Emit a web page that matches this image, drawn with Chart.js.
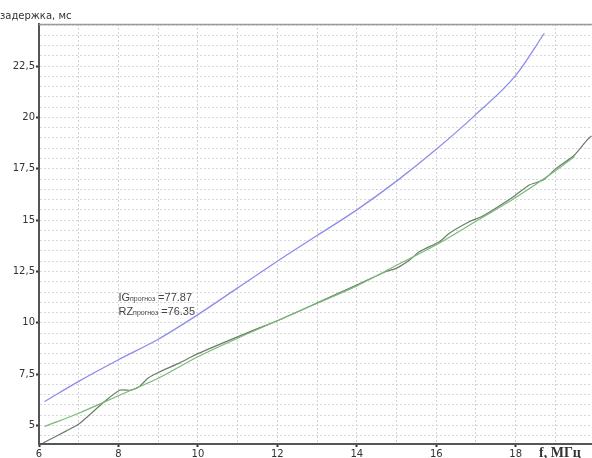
<!DOCTYPE html>
<html lang="ru">
<head>
<meta charset="utf-8">
<title>Задержка</title>
<script src="https://cdn.jsdelivr.net/npm/chart.js"></script>
<style>
  body { margin: 0; background: #fff; }
  #wrap { width: 592px; height: 458px; }
</style>
</head>
<body>
<div id="wrap"><canvas id="myChart" width="592" height="458"></canvas></div>
<script>
// IG forecast curve
var freqIG  = [6.14, 7, 8, 9, 10, 11, 12, 13, 14, 15, 16, 17, 18, 18.72];
var delayIG = [6.17, 7.15, 8.2, 9.2, 10.4, 11.7, 13.0, 14.25, 15.5, 16.9, 18.45, 20.15, 22.05, 24.1];

// RZ measured (dark) line
var freqRZ  = [6.1, 6.69, 7.02, 7.65, 8.03, 8.32, 8.53, 8.74, 9.0, 9.54, 10, 11.3, 12.06, 13.06, 13.98,
               14.74, 14.99, 15.33, 15.58, 16.08, 16.33, 16.84, 17.17, 17.97, 18.34, 18.69, 19.02, 19.48, 19.81, 19.91];
var delayRZ = [4.15, 4.74, 5.1, 6.17, 6.72, 6.72, 6.9, 7.3, 7.58, 8.05, 8.5, 9.56, 10.15, 11.02, 11.83,
               12.5, 12.65, 13.06, 13.47, 13.95, 14.36, 14.93, 15.2, 16.18, 16.71, 16.95, 17.52, 18.17, 18.93, 19.1];

// smooth fit (light green)
var freqFit  = [6.14, 7, 8, 9, 10, 11, 12, 13, 14, 15, 16, 17, 18, 19, 19.48];
var delayFit = [4.95, 5.6, 6.45, 7.3, 8.35, 9.25, 10.1, 10.95, 11.8, 12.8, 13.8, 14.95, 16.1, 17.4, 18.1];

var xTickLabels = [6, 8, 10, 12, 14, 16, 18];
var yTickLabels = [5, 7.5, 10, 12.5, 15, 17.5, 20, 22.5];

var noteIG = 'IG', noteIGval = '=77.87';
var noteRZ = 'RZ', noteRZval = '=76.35';
var noteSub = 'прогноз';

function pts(xs, ys) {
    return xs.map(function (x, i) { return {x: x, y: ys[i]}; });
}

var xGrid = [];
for (var i = 6; i <= 19; i++) xGrid.push(i);
var yGrid = [];
for (var v = 4.5; v <= 24.5; v += 0.5) yGrid.push(Math.round(v * 10) / 10);

var extras = {
    id: 'extras',
    afterDraw: function (chart) {
        var ctx = chart.ctx, a = chart.chartArea;
        var xs = chart.scales.x, ys = chart.scales.y;
        ctx.save();
        // top border
        ctx.strokeStyle = '#9a9a9a';
        ctx.lineWidth = 1.5;
        ctx.beginPath();
        ctx.moveTo(a.left, a.top + 0.5);
        ctx.lineTo(a.right, a.top + 0.5);
        ctx.stroke();

        // axis titles
        ctx.fillStyle = '#333';
        ctx.font = '10px "DejaVu Sans"';
        ctx.textBaseline = 'alphabetic';
        ctx.fillText('задержка, мс', 0, 19);
        ctx.font = 'bold 14px "Liberation Serif"';
        ctx.fillText('f, МГц', 539, 457);

        // notes
        var nx = xs.getPixelForValue(8.0);
        var ny1 = ys.getPixelForValue(11.05);
        var ny2 = ys.getPixelForValue(10.4);
        [[noteIG, noteIGval, ny1], [noteRZ, noteRZval, ny2]].forEach(function (n) {
            var x = nx;
            ctx.font = '11px "Liberation Sans"';
            ctx.fillStyle = '#444';
            ctx.fillText(n[0], x, n[2]);
            x += ctx.measureText(n[0]).width;
            ctx.font = '7px "Liberation Sans"';
            ctx.fillText(noteSub, x, n[2]);
            x += ctx.measureText(noteSub).width + 3;
            ctx.font = '11px "Liberation Sans"';
            ctx.fillText(n[1], x, n[2]);
        });
        ctx.restore();
    }
};

var ctx = document.getElementById('myChart').getContext('2d');
var myChart = new Chart(ctx, {
    type: 'line',
    data: {
        datasets: [{
            label: 'IG',
            data: pts(freqIG, delayIG),
            borderColor: 'rgba(140,140,235,1)',
            borderWidth: 1.3,
            cubicInterpolationMode: 'monotone',
            pointRadius: 0
        }, {
            label: 'fit',
            data: pts(freqFit, delayFit),
            borderColor: 'rgba(120,185,120,1)',
            borderWidth: 1.2,
            cubicInterpolationMode: 'monotone',
            pointRadius: 0
        }, {
            label: 'RZ',
            data: pts(freqRZ, delayRZ),
            borderColor: 'rgba(105,125,105,1)',
            borderWidth: 1.2,
            tension: 0.2,
            pointRadius: 0
        }]
    },
    options: {
        responsive: false,
        animation: false,
        layout: { padding: { top: 24, right: 0, left: 0, bottom: 0 } },
        plugins: { legend: { display: false }, tooltip: { enabled: false } },
        scales: {
            x: {
                type: 'linear',
                min: 6, max: 19.92,
                afterBuildTicks: function (s) { s.ticks = xGrid.map(function (v) { return {value: v}; }); },
                afterFit: function (s) { s.height = 14; },
                ticks: {
                    autoSkip: false, maxRotation: 0, padding: 1,
                    color: '#333',
                    font: { family: 'DejaVu Sans', size: 10 },
                    callback: function (v) { return xTickLabels.indexOf(v) >= 0 ? String(v) : ''; }
                },
                grid: {
                    color: '#d2d2d2', lineWidth: 1, tickLength: 3, tickWidth: 2,
                    tickColor: function (c) { return c.tick && xTickLabels.indexOf(c.tick.value) >= 0 ? '#333' : 'rgba(0,0,0,0)'; }
                },
                border: { color: '#555', width: 2, dash: [2, 2] }
            },
            y: {
                type: 'linear',
                min: 4.1, max: 24.55,
                afterBuildTicks: function (s) { s.ticks = yGrid.map(function (v) { return {value: v}; }); },
                afterFit: function (s) { s.width = 39; },
                ticks: {
                    autoSkip: false, padding: 1,
                    color: '#333',
                    font: { family: 'DejaVu Sans', size: 10 },
                    callback: function (v) {
                        return yTickLabels.indexOf(v) >= 0 ? String(v).replace('.', ',') : '';
                    }
                },
                grid: {
                    color: '#d8d8d8', lineWidth: 1, tickLength: 3, tickWidth: 2,
                    tickColor: function (c) { return c.tick && yTickLabels.indexOf(c.tick.value) >= 0 ? '#333' : 'rgba(0,0,0,0)'; }
                },
                border: { color: '#555', width: 2, dash: [2, 2] }
            }
        }
    },
    plugins: [extras]
});
</script>
</body>
</html>
